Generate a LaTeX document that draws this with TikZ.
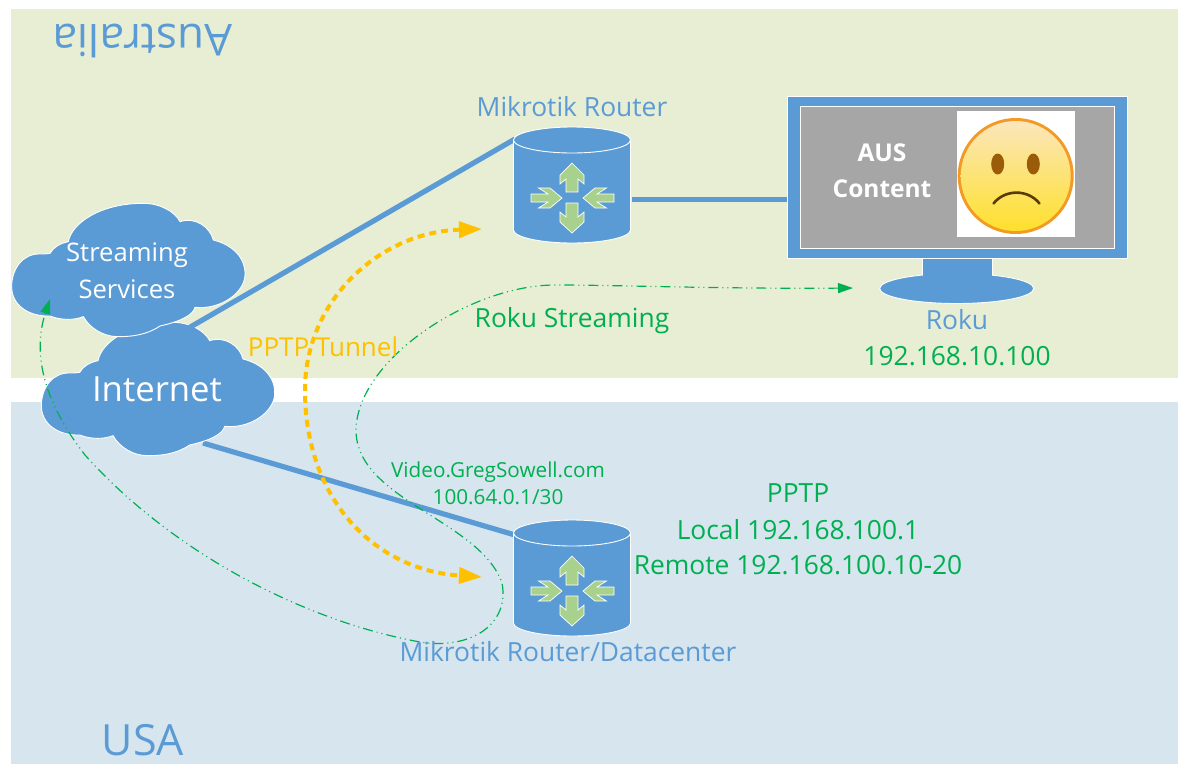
\documentclass[tikz,border=0pt]{standalone}
\usepackage{fontspec}
\setmainfont{Open Sans}
\usetikzlibrary{arrows.meta}
\definecolor{ablue}{HTML}{5B9BD5}
\definecolor{agreen}{HTML}{00B050}
\definecolor{ayellow}{HTML}{FFC000}
\definecolor{lgreen}{HTML}{A9D18E}
\definecolor{topband}{HTML}{E8EED4}
\definecolor{botband}{HTML}{D6E5EE}
\definecolor{faceA}{HTML}{FBE6BC}
\definecolor{faceB}{HTML}{FBBF35}
\definecolor{faceC}{HTML}{FEE02C}
\definecolor{faceR}{HTML}{F29A25}
\definecolor{faceE}{HTML}{9A5C08}
\definecolor{faceM}{HTML}{5A3A08}
\newcommand{\fs}[1]{\fontsize{#1}{#1}\selectfont}
\tikzset{
  x=1pt,y=-1pt,
  shapeblue/.style={fill=ablue,draw=white,line width=0.9pt},
  link/.style={draw=ablue,line width=5.2pt},
  lbl/.style={inner sep=0pt,anchor=center},
  bluelbl/.style={lbl,text=ablue,font=\fs{26.4}},
  greenlbl/.style={lbl,text=agreen,font=\fs{26.4}},
  whitelbl/.style={lbl,text=white,font=\fs{25.6}},
  tunnel/.style={draw=ayellow,line width=4pt,dash pattern=on 7pt off 5pt,
     {Triangle[length=23pt,width=16pt]}-{Triangle[length=23pt,width=16pt]}},
  stream/.style={draw=agreen,line width=1.2pt,dash pattern=on 10pt off 4pt on 1pt off 4pt on 1pt off 4pt,
     {Triangle[length=15pt,width=10pt]}-{Triangle[length=15pt,width=10pt]}},
  arr/.style={fill=lgreen,draw=white,line width=0.7pt},
  cloudshape/.pic={
    \path[shapeblue] (35,290) .. controls (35,235) and (70,190) .. (120,192)
      .. controls (130,192) and (140,192) .. (150,190)
      .. controls (160,172) and (180,160) .. (205,155)
      .. controls (215,100) and (300,40) .. (430,40)
      .. controls (480,40) and (525,65) .. (540,95)
      .. controls (585,80) and (630,110) .. (640,150)
      .. controls (700,165) and (737,205) .. (735,255)
      .. controls (733,310) and (660,360) .. (585,352)
      .. controls (580,375) and (540,395) .. (480,408)
      .. controls (440,435) and (395,440) .. (355,440)
      .. controls (310,440) and (270,415) .. (250,380)
      .. controls (220,392) and (180,390) .. (150,378)
      .. controls (85,380) and (35,345) .. (35,290) -- cycle;
  },
  routershape/.pic={
    % origin: centre of the arrows
    \path[shapeblue] (-58.5,-58) -- (-58.5,32) .. controls (-58.5,39) and (-32,45) .. (0,45)
       .. controls (32,45) and (58.5,39) .. (58.5,32) -- (58.5,-58)
       .. controls (58.5,-65) and (32,-71) .. (0,-71) .. controls (-32,-71) and (-58.5,-65) .. (-58.5,-58) -- cycle;
    \draw[white,line width=0.9pt] (-58.5,-58) .. controls (-58.5,-51) and (-32,-45) .. (0,-45)
       .. controls (32,-45) and (58.5,-51) .. (58.5,-58);
    \path[arr] (0,-35) -- (12,-23) -- (12,-14) -- (6,-19) -- (6,-6) -- (-6,-6) -- (-6,-19) -- (-12,-14) -- (-12,-23) -- cycle;
    \path[arr] (0,35) -- (12,24) -- (12,14) -- (6,19) -- (6,5) -- (-6,5) -- (-6,19) -- (-12,14) -- (-12,24) -- cycle;
    \path[arr] (-10,0) -- (-22,-10) -- (-33.5,-10) -- (-24,-4) -- (-41,-4) -- (-41,4) -- (-24,4) -- (-33.5,10) -- (-22,10) -- cycle;
    \path[arr] (11,0) -- (23,-10) -- (34.5,-10) -- (25,-4) -- (42,-4) -- (42,4) -- (25,4) -- (34.5,10) -- (23,10) -- cycle;
  },
}
\begin{document}
\begin{tikzpicture}
\useasboundingbox[fill=white] (0,0) rectangle (1178,764);
% bands
\fill[topband] (11,9) rectangle (1178,378);
\fill[botband] (11,402) rectangle (1178,764);
\node[lbl,text=ablue,font=\fs{44}] (aus) [rotate=180] at (143,41) {Australia};
\node[lbl,text=ablue,font=\fs{43}] (usa) at (143,740) {USA};

% anchors
\coordinate (inetA) at (180,333);
\coordinate (inetB) at (203,443);
\coordinate (r1w) at (515,139);
\coordinate (r2w) at (515,535);
\coordinate (r1e) at (632,199.5);
\coordinate (tunA) at (482,229);
\coordinate (tunB) at (482,577);
\coordinate (roku) at (853,288);
\coordinate (svc) at (50,299);

% Internet cloud and links
\draw[link] (inetB) -- (r2w);
\pic[scale=1/3] at (29.7,309) {cloudshape};
\draw[link] (inetA) -- (r1w);
\pic[scale=1/3] at (0,190) {cloudshape};
\node[whitelbl] (ss1) at (127,255) {Streaming};
\node[whitelbl] (ss2) at (127,289) {Services};
\node[lbl,text=white,font=\fs{34.7}] (inet) at (157,389) {Internet};

% routers
\pic at (572,198) {routershape};
\pic at (572,591) {routershape};

% monitor
\path[shapeblue] (922.3,255) rectangle (992.3,280);
\path[shapeblue] (956.7,288.5) ellipse [x radius=77,y radius=15];
\fill[ablue] (923,255) rectangle (992,283);
\node[shapeblue,rectangle,minimum width=340pt,minimum height=161.6pt,inner sep=0pt] (mon) at (957.3,177.5) {};
\draw[link] (r1e) -- (r1e -| mon.west);
\path[fill=black!35,draw=white,line width=0.9pt] (800.7,106.7) rectangle (1114,248.3);
\fill[white] (956.7,111) rectangle (1075,236.7);
\fill[faceR] (1015.7,176) circle (58);
\shade[top color=faceA,middle color=faceB,bottom color=faceC] (1015.7,176) circle (55);
\fill[faceE] (997.7,164) ellipse [x radius=6.5,y radius=10.5];
\fill[faceE] (1033.3,164) ellipse [x radius=6.5,y radius=10.5];
\draw[faceM,line width=2.6pt,line cap=round] (993.5,203.5) .. controls (1005,189) and (1028,189) .. (1039.5,203.5);
\node[lbl,text=white,font=\bfseries\fs{24.5}] (c1) at (882,152.5) {AUS};
\node[lbl,text=white,font=\bfseries\fs{24.5}] (c2) at (882,188.5) {Content};

% tunnels
\draw[tunnel] (tunA) .. controls (380,232) and (305,300) .. (305,390)
   .. controls (305,500) and (375,570) .. (tunB);
\draw[stream] (roku) .. controls (720,289) and (620,285) .. (555,285)
   .. controls (470,285) and (357,360) .. (356,430)
   .. controls (356,500) and (480,520) .. (502,583)
   .. controls (510,625) and (470,650) .. (420,642)
   .. controls (300,620) and (170,550) .. (85,455)
   .. controls (50,410) and (30,360) .. (svc);

% labels
\node[bluelbl] (l1) at (572,107) {Mikrotik Router};
\node[bluelbl] (l2) at (957,320) {Roku};
\node[greenlbl] (l3) at (957,356) {192.168.10.100};
\node[greenlbl] (l4) at (572,321) {Roku Streaming};
\node[lbl,text=ayellow,font=\fs{26}] (l5) at (323,347) {PPTP Tunnel};
\node[lbl,text=agreen,font=\fs{20.7}] (l6) at (498,472) {Video.GregSowell.com};
\node[lbl,text=agreen,font=\fs{20.7}] (l7) at (498,497) {100.64.0.1/30};
\node[greenlbl] (l8) at (798,493) {PPTP};
\node[greenlbl] (l9) at (798,530) {Local 192.168.100.1};
\node[greenlbl] (l10) at (798,565) {Remote 192.168.100.10-20};
\node[bluelbl] (l11) at (568,652) {Mikrotik Router/Datacenter};
\end{tikzpicture}
\end{document}
